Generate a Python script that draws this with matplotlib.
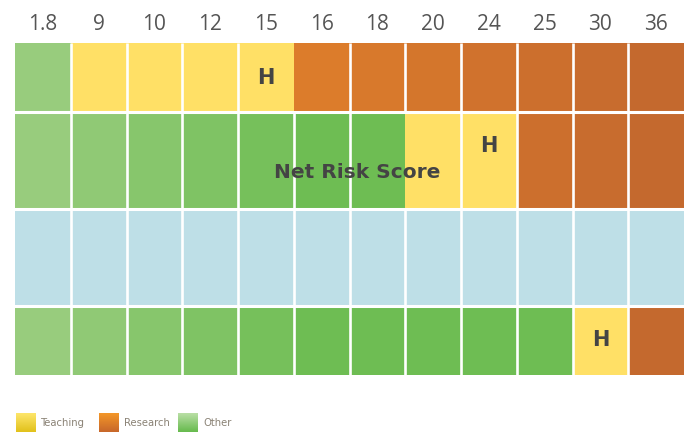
import numpy as np
import matplotlib
matplotlib.use("Agg")
import matplotlib.pyplot as plt
from matplotlib.colors import LinearSegmentedColormap, to_rgb

scores = ["1.8", "9", "10", "12", "15", "16", "18", "20", "24", "25", "30", "36"]
# cell category per row: T = teaching, R = research, O = other, B = blank
row_cats = [
    "OTTTTRRRRRRR",
    "OOOOOOOTTRRR",
    "BBBBBBBBBBBB",
    "OOOOOOOOOOTR",
]
h_marks = [(0, 4), (1, 8), (3, 10)]
legend_labels = ["Teaching", "Research", "Other"]

# layout / style
row_heights = [69, 97, 97, 69]
no_sep = {(0, 5), (1, 7)}   # boundaries drawn without white separator
YELLOW = "#ffe066"
BLUE = "#bedfe7"


def mix(c1, c2, t):
    a, b = np.array(to_rgb(c1)), np.array(to_rgb(c2))
    return tuple(a + (b - a) * t)


def cell_color(cat, col):
    if cat == "T":
        return YELLOW
    if cat == "B":
        return BLUE
    if cat == "O":
        return mix("#98cc7d", "#6ebd53", min(col, 5) / 5)
    return mix("#dc7c2b", "#c4692e", max(col - 5, 0) / 6)


fig = plt.figure(figsize=(6.84, 4.32), dpi=100)
ax = fig.add_axes([15 / 684, 57 / 432, 669 / 684, 332 / 432])

tops = np.concatenate([[0], np.cumsum(row_heights)[:-1]])
for r, cats in enumerate(row_cats):
    for c, cat in enumerate(cats):
        ax.bar(c, row_heights[r], bottom=tops[r], width=1, align="edge",
               color=cell_color(cat, c), linewidth=0)

# white separators
for r in range(len(row_cats)):
    for c in range(1, len(scores)):
        if (r, c) in no_sep:
            continue
        ax.plot([c, c], [tops[r], tops[r] + row_heights[r]], color="white", lw=1.9,
                solid_capstyle="butt")
for r in range(1, len(row_cats)):
    ax.axhline(tops[r], color="white", lw=2.2)

for r, c in h_marks:
    y = tops[r] + row_heights[r] / 2
    if r == 1:
        y = tops[r] + 34
    ax.text(c + 0.5, y, "H", ha="center", va="center", fontsize=15,
            fontweight="bold", color="#444444")

ax.text(6.13, tops[1] + 61, "Net Risk Score", ha="center", va="center",
        fontsize=14.5, fontweight="bold", color="#444444")

ax.set_xlim(0, len(scores))
ax.set_ylim(sum(row_heights), 0)
ax.set_xticks(np.arange(len(scores)) + 0.5)
ax.set_xticklabels(scores, fontsize=15, color="#555555", family="Open Sans")
ax.xaxis.tick_top()
ax.tick_params(axis="x", length=0, pad=6)
ax.set_yticks([])
for s in ax.spines.values():
    s.set_visible(False)

# legend with gradient swatches
grads = [("#fde56a", "#e2c21c"), ("#f39628", "#c8682b"), ("#b8dea4", "#68bb4f")]
xs = [16, 99, 178]
for (c1, c2), x0, lab in zip(grads, xs, legend_labels):
    sw = fig.add_axes([x0 / 684, 0, 20 / 684, 19 / 432])
    cmap = LinearSegmentedColormap.from_list("g", [c1, c2])
    sw.imshow(np.linspace(0, 1, 20).reshape(-1, 1), cmap=cmap, aspect="auto")
    sw.axis("off")
    fig.text((x0 + 25) / 684, 9 / 432, lab, ha="left", va="center", fontsize=8,
             color="#8a8275", family="DejaVu Sans", fontstretch="condensed")

fig.savefig("out.png", dpi=100)
